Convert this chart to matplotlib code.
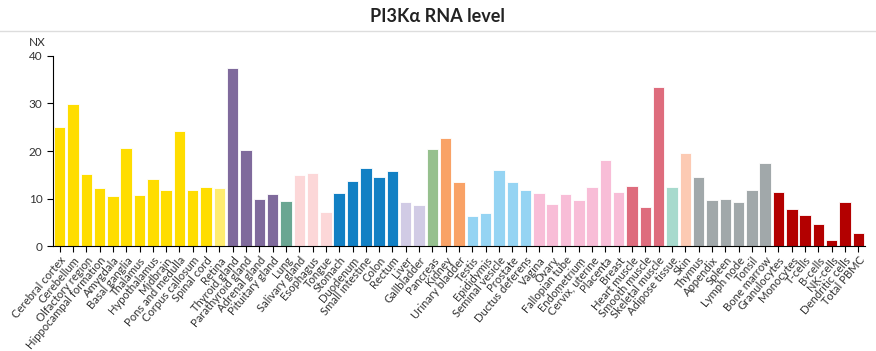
import numpy as np
import matplotlib.pyplot as plt

plt.rcParams['font.family'] = ['Lato', 'DejaVu Sans']

tissues = ['Cerebral cortex', 'Cerebellum', 'Olfactory region', 'Hippocampal formation',
           'Amygdala', 'Basal ganglia', 'Thalamus', 'Hypothalamus', 'Midbrain',
           'Pons and medulla', 'Corpus callosum', 'Spinal cord', 'Retina',
           'Thyroid gland', 'Parathyroid gland', 'Adrenal gland', 'Pituitary gland',
           'Lung', 'Salivary gland', 'Esophagus', 'Tongue', 'Stomach', 'Duodenum',
           'Small intestine', 'Colon', 'Rectum', 'Liver', 'Gallbladder', 'Pancreas',
           'Kidney', 'Urinary bladder', 'Testis', 'Epididymis', 'Seminal vesicle',
           'Prostate', 'Ductus deferens', 'Vagina', 'Ovary', 'Fallopian tube',
           'Endometrium', 'Cervix, uterine', 'Placenta', 'Breast', 'Heart muscle',
           'Smooth muscle', 'Skeletal muscle', 'Adipose tissue', 'Skin', 'Thymus',
           'Appendix', 'Spleen', 'Lymph node', 'Tonsil', 'Bone marrow',
           'Granulocytes', 'Monocytes', 'T-cells', 'B-cells', 'NK-cells',
           'Dendritic cells', 'Total PBMC']

nx = [25.0, 29.9, 15.2, 12.2, 10.6, 20.6, 10.7, 14.2, 11.9, 24.1, 11.9, 12.5, 12.2,
      37.4, 20.3, 9.9, 10.9, 9.5, 14.9, 15.3, 7.1, 11.1, 13.7, 16.4, 14.6, 15.7,
      9.3, 8.7, 20.4, 22.7, 13.4, 6.4, 6.9, 16.0, 13.4, 11.8, 11.1, 8.8, 10.9,
      9.7, 12.5, 18.1, 11.5, 12.7, 8.3, 33.4, 12.5, 19.6, 14.5, 9.7, 9.9, 9.2,
      11.9, 17.4, 11.3, 7.8, 6.5, 4.6, 1.3, 9.2, 2.7]

# tissue group sizes and their colours, in order
group_sizes = [12, 1, 4, 1, 3, 5, 2, 1, 2, 5, 7, 3, 1, 1, 6, 7]
group_colors = ['#FFDD00', '#FFEC70', '#7F6A9C', '#6AA692', '#FCD7D8', '#1280C4',
                '#D1CBE5', '#96C08E', '#F9A266', '#95D4F3', '#F8BDD7', '#DE6C7D',
                '#A7DACD', '#FCCAB3', '#A1A8AA', '#B30000']

colors = []
for n, c in zip(group_sizes, group_colors):
    colors += [c] * n

fig = plt.figure(figsize=(8.76, 3.51), dpi=100)
ax = fig.add_axes([53 / 876, 1 - 246.3 / 351, 812 / 876, 190.6 / 351])

x = np.arange(len(tissues))
ax.bar(x, nx, width=0.86, color=colors, edgecolor='white', linewidth=0.6)

ax.set_xlim(-0.5, len(tissues) - 0.5)
ax.set_ylim(0, 40)
ax.set_yticks([0, 10, 20, 30, 40])
ax.set_xticks(x)
ax.set_xticklabels(tissues, rotation=50, ha='right', va='top',
                   rotation_mode='anchor', fontsize=8.1, color='#333333')
ax.tick_params(axis='y', labelsize=8.5, labelcolor='#333333', length=4, width=0.8)
ax.tick_params(axis='x', length=4, width=0.8, pad=2)

for s in ['top', 'right']:
    ax.spines[s].set_visible(False)
for s in ['left', 'bottom']:
    ax.spines[s].set_linewidth(0.8)

ax.text(-0.02, 1.04, 'NX', transform=ax.transAxes, ha='center', va='bottom',
        fontsize=8.5, color='#333333')

fig.text(437 / 876, 1 - 17 / 351, 'PI3Kα RNA level', ha='center', va='center',
         fontsize=13, fontweight='bold', color='#222222')
fig.add_artist(plt.Line2D([0, 1], [1 - 31 / 351, 1 - 31 / 351],
                          transform=fig.transFigure, color='#dddddd', linewidth=1))

fig.savefig('out.png', dpi=100)
